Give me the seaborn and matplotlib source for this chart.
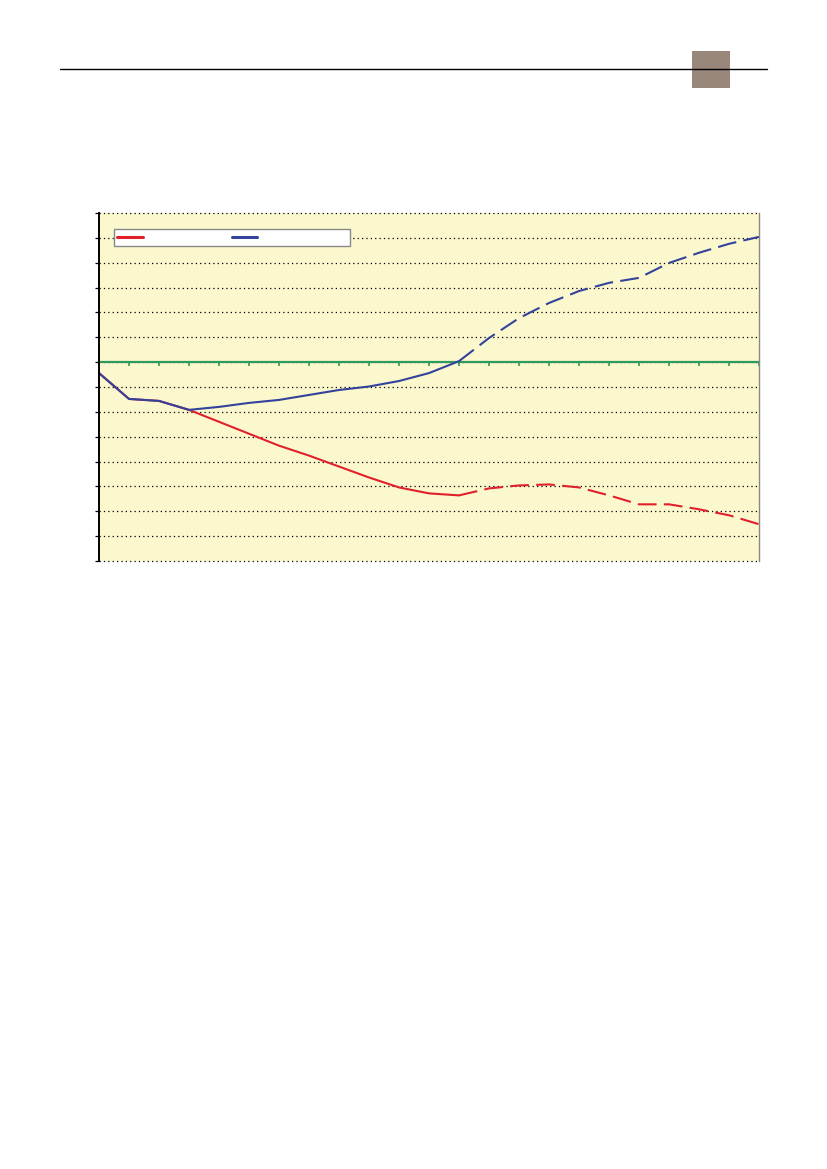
import numpy as np
import pandas as pd
import matplotlib
matplotlib.use("Agg")
import matplotlib.pyplot as plt
import seaborn as sns
from matplotlib.lines import Line2D
from matplotlib.patches import Rectangle

# ---------------- DATA ----------------
periods = list(range(23))
red_values = [-0.44, -1.48, -1.56, -1.92, -2.40, -2.88, -3.36, -3.76, -4.20, -4.64,
              -5.04, -5.28, -5.36, -5.08, -4.96, -4.92, -5.04, -5.36, -5.72, -5.72,
              -5.92, -6.16, -6.52]
blue_values = [-0.44, -1.48, -1.56, -1.92, -1.80, -1.64, -1.52, -1.32, -1.12, -0.98,
               -0.76, -0.44, 0.04, 0.97, 1.77, 2.38, 2.86, 3.19, 3.39, 3.99,
               4.40, 4.76, 5.04]
forecast_start = 12  # solid before, dashed after
y_ticks = list(range(-8, 7))

RED = "#E0212B"
BLUE = "#33439B"
GREEN = "#2E9A5E"
BG = "#FCF8CE"

df = pd.DataFrame({"period": periods, "red": red_values, "blue": blue_values})
hist = df[df["period"] <= forecast_start]
fcst = df[df["period"] >= forecast_start]

# ---------------- FIGURE ----------------
sns.set_style("white")
fig = plt.figure(figsize=(8.27, 11.69), dpi=100)
ax = fig.add_axes([99 / 827, 1 - 561 / 1169, 660 / 827, 348 / 1169])
ax.set_facecolor(BG)

lw = 1.5
for col, color in [("red", RED), ("blue", BLUE)]:
    sns.lineplot(data=hist, x="period", y=col, ax=ax, color=color, linewidth=lw)
    sns.lineplot(data=fcst, x="period", y=col, ax=ax, color=color, linewidth=lw,
                 dashes=False, linestyle=(0, (9, 3.5)))

ax.set_xlim(periods[0], periods[-1])
ax.set_ylim(y_ticks[0], y_ticks[-1])
ax.set_yticks(y_ticks)
ax.set_xticks(periods)
ax.set_yticklabels([])
ax.set_xticklabels([])
ax.set_xlabel("")
ax.set_ylabel("")

# dotted grid (edges too)
ax.yaxis.grid(True, linestyle=(0, (1, 2.5)), color="black", linewidth=0.9)
ax.xaxis.grid(False)
ax.set_axisbelow(True)
for gl in ax.get_ygridlines():
    gl.set_clip_on(False)

# zero line as green x-axis
ax.spines["bottom"].set_position(("data", 0))
ax.spines["bottom"].set_color(GREEN)
ax.spines["bottom"].set_linewidth(1.6)
ax.spines["bottom"].set_zorder(1.5)
ax.spines["top"].set_visible(False)
ax.spines["left"].set_color("black")
ax.spines["left"].set_linewidth(1.4)
ax.spines["right"].set_color("#888888")
ax.spines["right"].set_linewidth(1.0)
ax.tick_params(axis="x", direction="out", length=3, width=1.2, color=GREEN, bottom=True)
ax.tick_params(axis="y", direction="out", length=3, width=0.9, color="black", left=True)

# legend with empty labels
handles = [Line2D([], [], color=RED, linewidth=2.2), Line2D([], [], color=BLUE, linewidth=2.2)]
leg = ax.legend(handles, ["", ""], ncol=2, loc="upper left",
                bbox_to_anchor=((114 - 99) / 660, (561 - 229) / 348),
                frameon=True, fancybox=False, framealpha=1,
                edgecolor="#888888", facecolor="white", fontsize=7,
                handlelength=2.6, handletextpad=9.2, columnspacing=0.0,
                borderpad=0.35, borderaxespad=0)
leg.get_frame().set_linewidth(1.0)

# page header
fig.add_artist(Line2D([60 / 827, 767 / 827], [1 - 69 / 1169, 1 - 69 / 1169],
                      color="black", linewidth=1.0, transform=fig.transFigure))
fig.add_artist(Rectangle((692 / 827, 1 - 88 / 1169), 38 / 827, 37 / 1169,
                         facecolor="#9A877C", edgecolor="none", transform=fig.transFigure))

fig.savefig("out.png", dpi=100)
